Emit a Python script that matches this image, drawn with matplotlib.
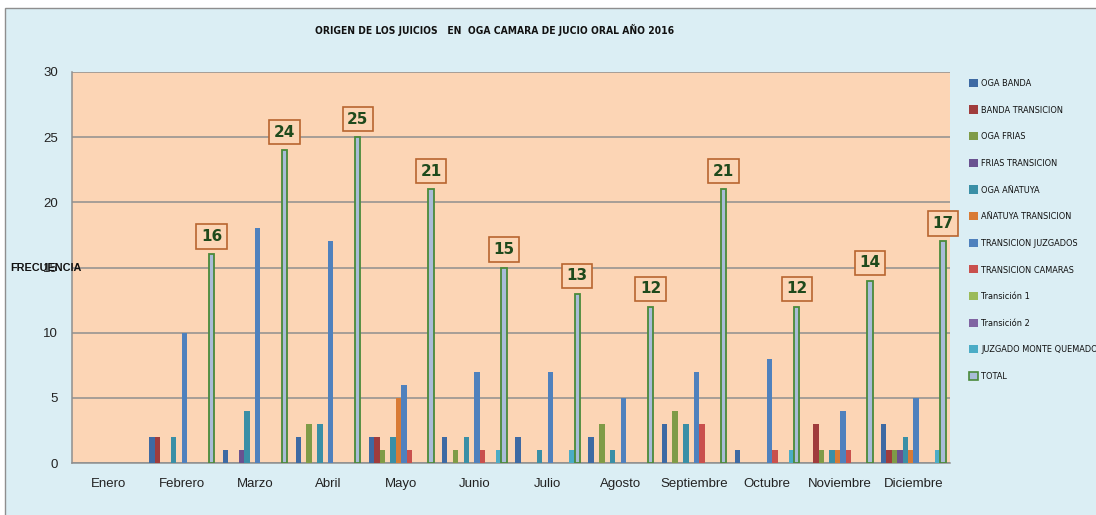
import matplotlib
matplotlib.use('Agg')
import matplotlib.pyplot as plt
import numpy as np
from matplotlib.patches import Rectangle, Patch
from matplotlib import font_manager as fm

months = ['Enero', 'Febrero', 'Marzo', 'Abril', 'Mayo', 'Junio', 'Julio',
          'Agosto', 'Septiembre', 'Octubre', 'Noviembre', 'Diciembre']

series_names = ['OGA BANDA', 'BANDA TRANSICION', 'OGA FRIAS', 'FRIAS TRANSICION',
                'OGA AÑATUYA', 'AÑATUYA TRANSICION', 'TRANSICION JUZGADOS',
                'TRANSICION CAMARAS', 'Transición 1', 'Transición 2',
                'JUZGADO MONTE QUEMADO', 'TOTAL']

oga_banda = [0, 2, 1, 2, 2, 2, 2, 2, 3, 1, 0, 3]
banda_transicion = [0, 2, 0, 0, 2, 0, 0, 0, 0, 0, 3, 1]
oga_frias = [0, 0, 0, 3, 1, 1, 0, 3, 4, 0, 1, 1]
frias_transicion = [0, 0, 1, 0, 0, 0, 0, 0, 0, 0, 0, 1]
oga_anatuya = [0, 2, 4, 3, 2, 2, 1, 1, 3, 0, 1, 2]
anatuya_transicion = [0, 0, 0, 0, 5, 0, 0, 0, 0, 0, 1, 1]
transicion_juzgados = [0, 10, 18, 17, 6, 7, 7, 5, 7, 8, 4, 5]
transicion_camaras = [0, 0, 0, 0, 1, 1, 0, 0, 3, 1, 1, 0]
transicion_1 = [0, 0, 0, 0, 0, 0, 0, 0, 0, 0, 0, 0]
transicion_2 = [0, 0, 0, 0, 0, 0, 0, 0, 0, 0, 0, 0]
juzgado_monte_quemado = [0, 0, 0, 0, 0, 1, 1, 0, 0, 1, 0, 1]
total = [0, 16, 24, 25, 21, 15, 13, 12, 21, 12, 14, 17]

all_series = [oga_banda, banda_transicion, oga_frias, frias_transicion,
              oga_anatuya, anatuya_transicion, transicion_juzgados,
              transicion_camaras, transicion_1, transicion_2,
              juzgado_monte_quemado, total]

colors = ['#3E6AA3', '#A03C3C', '#7F9B47', '#6A5290', '#3A8FA6', '#D97B35',
          '#4F81BD', '#C9504D', '#9BBB59', '#8064A2', '#4BACC6', '#A9BCD8']

# choose a narrow font if one is installed
names = {f.name for f in fm.fontManager.ttflist}
dejavu_cond = any(f.name == 'DejaVu Sans' and 'condensed' in str(f.stretch)
                  for f in fm.fontManager.ttflist)
if 'Liberation Sans Narrow' in names:
    NARROW = dict(family=['Liberation Sans Narrow', 'DejaVu Sans'])
    leg_size, title_size, leg_sp = 8.5, 8.6, 1.75
elif dejavu_cond:
    NARROW = dict(family=['DejaVu Sans'], stretch='condensed')
    leg_size, title_size, leg_sp = 6.6, 7.4, 1.9
else:
    NARROW = dict(family=['Liberation Sans', 'DejaVu Sans'])
    leg_size, title_size, leg_sp = 6.4, 7.2, 1.95

fig = plt.figure(figsize=(10.96, 5.15), dpi=100, facecolor='white')
fig.patches.append(Rectangle((5 / 1096, -0.05), 1.1, 1 - 8 / 515 + 0.05,
                             transform=fig.transFigure, facecolor='#DBEEF4',
                             edgecolor='#8E8E8E', linewidth=1.0, zorder=-5))

ax = fig.add_axes([72 / 1096, 1 - 463 / 515, (950 - 72) / 1096, (463 - 72) / 515])
ax.set_zorder(2)
ax.set_facecolor('#FCD5B5')

x = np.arange(len(months))
w = 0.0738
n = len(all_series)
for j, (vals, name, c) in enumerate(zip(all_series, series_names, colors)):
    pos = x + (j - (n - 1) / 2) * w
    vals = np.asarray(vals)
    if name == 'TOTAL':
        keep = vals > 0
        ax.bar(pos[keep], vals[keep], width=w, color=c, edgecolor='#4A8A3A',
               linewidth=1.3, zorder=3, label=name)
        for px, v in zip(pos[keep], vals[keep]):
            ax.annotate(str(v), (px, v), xytext=(0, 7.5), textcoords='offset points',
                        ha='center', va='bottom', fontsize=11, fontweight='bold',
                        color='#1F4A1C', family='DejaVu Sans',
                        bbox=dict(boxstyle='square,pad=0.3', facecolor='#FCD5B5',
                                  edgecolor='#B8652F', linewidth=1.2),
                        zorder=5)
    else:
        ax.bar(pos, vals, width=w, color=c, linewidth=0, zorder=3, label=name)

ax.set_xlim(-0.5, 11.5)
ax.set_ylim(0, 30)
ax.set_yticks([0, 5, 10, 15, 20, 25, 30])
ax.set_xticks(x)
ax.set_xticklabels(months, fontsize=9.5, family='Liberation Sans', color='#222222')
ax.tick_params(axis='both', length=0)
ax.tick_params(axis='x', pad=11)
ax.tick_params(axis='y', pad=10, labelsize=9.5, labelcolor='#222222')
for lab in ax.get_yticklabels():
    lab.set_family('Liberation Sans')
ax.grid(axis='y', color='#8F8F8F', linewidth=1.1, zorder=1)
ax.set_axisbelow(True)
for s in ['top', 'right']:
    ax.spines[s].set_visible(False)
for s in ['left', 'bottom']:
    ax.spines[s].set_color('#8F8F8F')
    ax.spines[s].set_linewidth(1.1)

fig.text(10 / 1096, 1 - 268 / 515, 'FRECUENCIA', fontsize=7.8, fontweight='bold',
         family='Liberation Sans', ha='left', va='center', color='#111111', zorder=10)

fig.text(495 / 1096, 1 - 30 / 515,
         'ORIGEN DE LOS JUICIOS   EN  OGA CAMARA DE JUCIO ORAL AÑO 2016',
         fontsize=title_size, fontweight='bold', ha='center', va='center',
         color='#111111', **NARROW)

handles = []
for name, c in zip(series_names, colors):
    if name == 'TOTAL':
        handles.append(Patch(facecolor=c, edgecolor='#4A8A3A', linewidth=1.2))
    else:
        handles.append(Patch(facecolor=c, edgecolor='none'))
leg_prop = fm.FontProperties(size=leg_size, **NARROW)
leg = fig.legend(handles, series_names, loc='upper left',
                 bbox_to_anchor=(965 / 1096, 1 - 75 / 515), frameon=False,
                 prop=leg_prop, handlelength=1.0,
                 handleheight=1.0, handletextpad=0.35, labelspacing=leg_sp,
                 borderaxespad=0)
for t in leg.get_texts():
    t.set_color('#111111')

fig.savefig('out.png', dpi=100, facecolor=fig.get_facecolor())
